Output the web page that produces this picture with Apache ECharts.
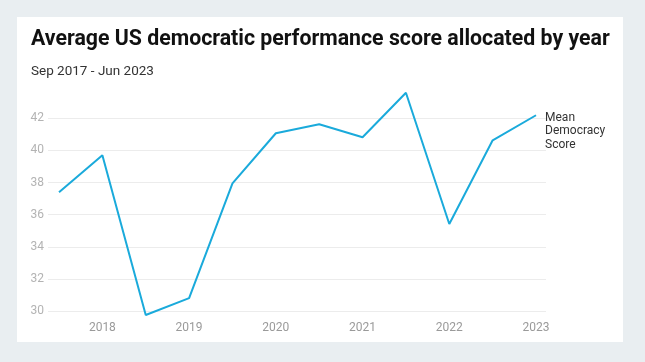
<!DOCTYPE html>
<html>
<head>
<meta charset="utf-8">
<script src="https://cdn.jsdelivr.net/npm/echarts@6/dist/echarts.min.js"></script>
<style>
html,body{margin:0;padding:0;background:#e9eef1;}
#c{width:645px;height:362px;}
</style>
</head>
<body>
<div id="c"></div>
<script>
const periods = [2017.5, 2018, 2018.5, 2019, 2019.5, 2020, 2020.5, 2021, 2021.5, 2022, 2022.5, 2023];
const scores = [37.4, 39.7, 29.75, 30.8, 37.95, 41.07, 41.63, 40.82, 43.59, 35.42, 40.63, 42.19];
const yearTicks = [2018, 2019, 2020, 2021, 2022, 2023];
const seriesName = 'Mean Democracy Score';

const chart = echarts.init(document.getElementById('c'), null, {renderer: 'canvas'});
chart.setOption({
  backgroundColor: '#e9eef1',
  animation: false,
  graphic: [{
    type: 'rect', left: 17, top: 17, z: -10,
    shape: {width: 606, height: 325},
    style: {fill: '#ffffff'}
  }],
  title: {
    text: 'Average US democratic performance score allocated by year',
    subtext: 'Sep 2017 - Jun 2023',
    left: 26, top: 24, itemGap: 15,
    textStyle: {fontFamily: 'Roboto', fontWeight: 'bold', fontSize: 21.3, color: '#111111'},
    subtextStyle: {fontFamily: 'Roboto', fontSize: 13.5, color: '#333333'}
  },
  grid: {left: 48, right: 99, top: 118.3, bottom: 51},
  xAxis: {
    type: 'value', min: 2017.373, max: 2023.115,
    axisLine: {show: false}, axisTick: {show: false}, splitLine: {show: false},
    axisLabel: {customValues: yearTicks, margin: 11, color: '#9a9a9a', fontFamily: 'Roboto', fontSize: 12,
      formatter: v => String(Math.round(v))}
  },
  yAxis: {
    type: 'value', min: 30, max: 42, interval: 2,
    axisLine: {show: false}, axisTick: {show: false},
    splitLine: {lineStyle: {color: '#ececec', width: 1}},
    axisLabel: {margin: 4, color: '#b3b3b3', fontFamily: 'Roboto', fontSize: 12}
  },
  series: [{
    name: seriesName,
    type: 'line',
    clip: false,
    symbol: 'none',
    data: periods.map((p, i) => [p, scores[i]]),
    lineStyle: {color: '#1aaadb', width: 2},
    endLabel: {
      show: true,
      formatter: 'Mean\nDemocracy\nScore',
      fontFamily: 'Roboto', fontSize: 12, color: '#333333', lineHeight: 13.5,
      distance: 9, offset: [0, 16]
    }
  }]
});
</script>
</body>
</html>
